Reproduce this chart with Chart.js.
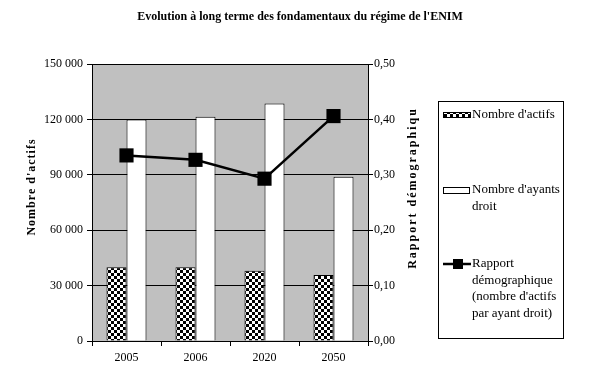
<!DOCTYPE html>
<html><head><meta charset="utf-8">
<script src="https://cdn.jsdelivr.net/npm/chart.js@4.4.1/dist/chart.umd.min.js"></script>
<style>html,body{margin:0;padding:0;background:#fff}canvas{display:block}</style>
</head><body>
<canvas id="c" width="598" height="385"></canvas>
<script>
const categories = ['2005', '2006', '2020', '2050'];
const actifs = [40000, 40000, 38000, 35700];
const ayantsDroit = [120000, 121500, 128600, 89000];
const rapport = [0.335, 0.327, 0.293, 0.406];
const leftTickLabels = ['0', '30 000', '60 000', '90 000', '120 000', '150 000'];
const rightTickLabels = ['0,00', '0,10', '0,20', '0,30', '0,40', '0,50'];
const seriesNames = ["Nombre d'actifs", "Nombre d'ayants droit", "Rapport démographique (nombre d'actifs par ayant droit)"];
const legendLines = [["Nombre d'actifs"], ["Nombre d'ayants", "droit"], ["Rapport", "démographique", "(nombre d'actifs", "par ayant droit)"]];
const titleText = "Evolution à long terme des fondamentaux du régime de l'ENIM";
const leftAxisTitle = "Nombre d'actifs";
const rightAxisTitle = "Rapport démographiqu";

const FONT = "'Liberation Serif', 'Times New Roman', serif";

function makeChecker() {
  const c = document.createElement('canvas');
  c.width = 6; c.height = 6;
  const g = c.getContext('2d');
  g.fillStyle = '#fff'; g.fillRect(0, 0, 6, 6);
  g.fillStyle = '#000'; g.fillRect(0, 0, 3, 3); g.fillRect(3, 3, 3, 3);
  return document.getElementById('c').getContext('2d').createPattern(c, 'repeat');
}
const checker = makeChecker();

const decor = {
  id: 'decor',
  beforeDraw(chart) {
    const { ctx, chartArea: a } = chart;
    ctx.save();
    ctx.fillStyle = '#c0c0c0';
    ctx.fillRect(a.left, a.top, a.right - a.left, a.bottom - a.top);
    ctx.restore();
  },
  afterDraw(chart) {
    const ctx = chart.ctx;
    ctx.save();
    ctx.fillStyle = '#000';
    // title
    ctx.font = "bold 12px " + FONT;
    ctx.textAlign = 'center';
    ctx.textBaseline = 'middle';
    ctx.fillText(titleText, 300, 17);
    // left axis title
    ctx.save();
    ctx.translate(32, 187);
    ctx.rotate(-Math.PI / 2);
    ctx.letterSpacing = '1px';
    ctx.fillText(leftAxisTitle, 0, 0);
    ctx.restore();
    // right axis title
    ctx.save();
    ctx.translate(413, 188);
    ctx.rotate(-Math.PI / 2);
    ctx.letterSpacing = '2px';
    ctx.fillText(rightAxisTitle, 0, 0);
    ctx.restore();
    // legend box
    ctx.strokeStyle = '#000';
    ctx.lineWidth = 1;
    ctx.strokeRect(438.5, 101.5, 125, 237);
    ctx.font = "13px " + FONT;
    ctx.textAlign = 'left';
    const tx = 472;
    // item 1
    ctx.fillStyle = checker;
    ctx.fillRect(443, 112, 28, 6);
    ctx.strokeRect(443.5, 112.5, 27, 5);
    ctx.fillStyle = '#000';
    legendLines[0].forEach((t, i) => ctx.fillText(t, tx, 115 + i * 16.5));
    // item 2
    ctx.fillStyle = '#fff';
    ctx.fillRect(443, 187, 26, 6);
    ctx.strokeRect(443.5, 187.5, 26, 6);
    ctx.fillStyle = '#000';
    legendLines[1].forEach((t, i) => ctx.fillText(t, tx, 190 + i * 16.5));
    // item 3
    ctx.lineWidth = 2.5;
    ctx.beginPath(); ctx.moveTo(443, 264); ctx.lineTo(471, 264); ctx.stroke();
    ctx.fillRect(453, 259, 10, 10);
    legendLines[2].forEach((t, i) => ctx.fillText(t, tx, 264 + i * 16.5));
    ctx.restore();
  }
};

new Chart(document.getElementById('c'), {
  data: {
    labels: categories,
    datasets: [
      { type: 'bar', label: seriesNames[0], data: actifs, yAxisID: 'y', backgroundColor: checker, borderColor: '#000', borderWidth: 1, order: 1 },
      { type: 'bar', label: seriesNames[1], data: ayantsDroit, yAxisID: 'y', backgroundColor: '#fff', borderColor: '#000', borderWidth: 1, order: 1 },
      { type: 'line', label: seriesNames[2], data: rapport, yAxisID: 'y1', borderColor: '#000', borderWidth: 2.5, backgroundColor: '#000',
        pointStyle: 'rect', pointRadius: 10, pointHoverRadius: 10, pointBackgroundColor: '#000', pointBorderColor: '#000', pointBorderWidth: 0, order: 0, tension: 0 }
    ]
  },
  options: {
    responsive: false,
    animation: false,
    events: [],
    layout: { padding: { left: 0, right: 170, top: 64, bottom: 0 } },
    plugins: { legend: { display: false }, title: { display: false }, tooltip: { enabled: false } },
    datasets: { bar: { categoryPercentage: 0.58, barPercentage: 1.0 } },
    scales: {
      x: {
        offset: true,
        grid: { offset: true, drawOnChartArea: false, color: '#000', tickLength: 5 },
        border: { color: '#000' },
        ticks: { color: '#000', font: { family: FONT, size: 12 }, padding: 5, maxRotation: 0 },
        afterFit(s) { s.height = 44; }
      },
      y: {
        position: 'left',
        min: 0, max: 150000,
        grid: { color: '#000', tickLength: 5 },
        border: { color: '#000' },
        ticks: { stepSize: 30000, color: '#000', font: { family: FONT, size: 12 }, padding: 4,
          callback: (v, i) => leftTickLabels[i] },
        afterFit(s) { s.width = 92; }
      },
      y1: {
        position: 'right',
        min: 0, max: 0.5,
        grid: { drawOnChartArea: false, color: '#000', tickLength: 5 },
        border: { color: '#000' },
        ticks: { stepSize: 0.1, color: '#000', font: { family: FONT, size: 12 }, padding: 1,
          callback: (v, i) => rightTickLabels[i] },
        afterFit(s) { s.width = 60; }
      }
    }
  },
  plugins: [decor]
});
</script>
</body></html>
